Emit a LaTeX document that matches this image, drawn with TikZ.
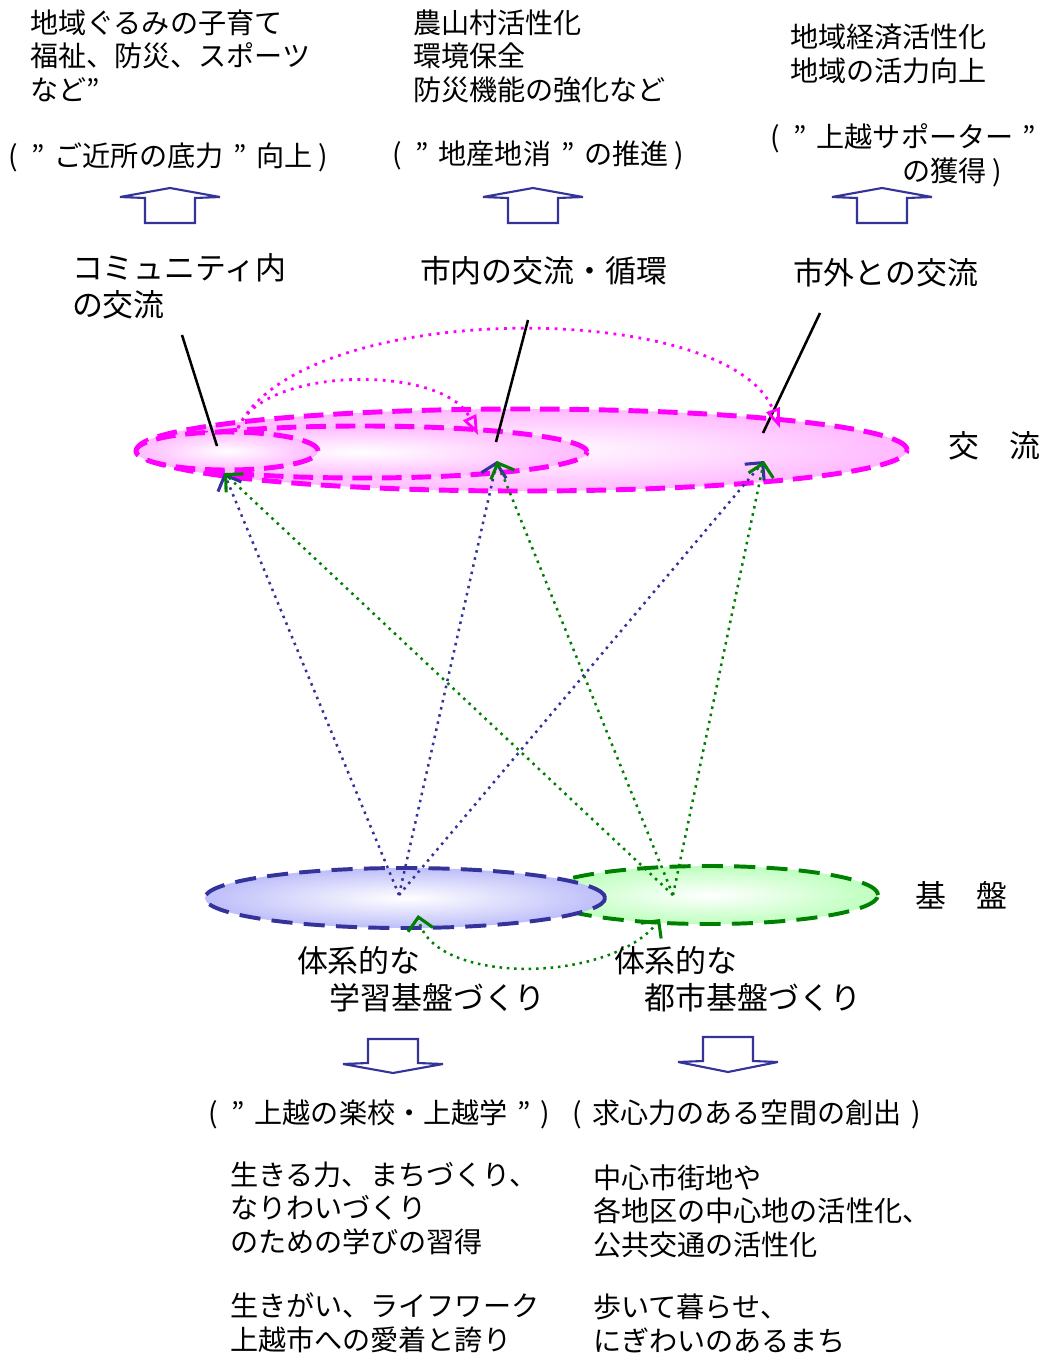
\documentclass[tikz,border=0pt]{standalone}
\usepackage{fontspec}
\setmainfont{Noto Sans CJK JP}
\usetikzlibrary{arrows.meta,shapes.geometric}
\definecolor{pinkline}{RGB}{255,0,255}
\definecolor{pinkfill}{RGB}{255,185,255}
\definecolor{blueline}{RGB}{51,51,153}
\definecolor{bluefill}{RGB}{190,190,250}
\definecolor{greenline}{RGB}{0,128,0}
\definecolor{greenfill}{RGB}{190,255,190}
\begin{document}
\begin{tikzpicture}[x=0.025cm, y=-0.025cm]
\tikzstyle{every node} = [inner sep=0pt, outer sep=0pt]
\tikzstyle{jptext} = [anchor=base west, align=left, font=\fontsize{20}{23.6}\selectfont]
\tikzstyle{jpbig} = [anchor=base west, align=left, font=\fontsize{22}{26.3}\selectfont]
\tikzstyle{blockarrow} = [draw=blueline, line width=1.5pt, fill=white, line join=miter, miter limit=2]
\tikzstyle{pinkring} = [ellipse, draw=pinkline, line width=3.5pt, dash pattern=on 14pt off 7pt, inner color=white, outer color=pinkfill]
\tikzstyle{bluering} = [ellipse, draw=blueline, line width=2.8pt, dash pattern=on 15pt off 8pt, inner color=white, outer color=bluefill]
\tikzstyle{greenring} = [ellipse, draw=greenline, line width=2.8pt, dash pattern=on 15pt off 8pt, inner color=white, outer color=greenfill]
\tikzstyle{bluedots} = [blueline, line width=1.8pt, dash pattern=on 1.8pt off 3.4pt, -{Straight Barb[length=9pt,width=18pt,line width=2.2pt]}]
\tikzstyle{greendots} = [greenline, line width=1.8pt, dash pattern=on 1.8pt off 3.4pt, -{Straight Barb[length=9pt,width=18pt,line width=2.2pt]}]
\tikzstyle{pinkdots} = [pinkline, line width=2pt, dash pattern=on 2pt off 4pt, -{Triangle[open,length=14pt,width=10pt,line width=2pt]}]
\useasboundingbox (0,0) rectangle (1040,1356);

% needs and aims
\node[jptext] (needsA) at (30,100) {地域ぐるみの子育て\\福祉、防災、スポーツ\\など”};
\node[jptext] (goalA) at (8,166) {(\hspace{0.5em}”\hspace{0.35em}ご近所の底力\hspace{0.35em}”\hspace{0.35em}向上\hspace{0.2em})};
\node[jptext] (needsB) at (413,100) {農山村活性化\\環境保全\\防災機能の強化など};
\node[jptext] (goalB) at (392,164) {(\hspace{0.5em}”\hspace{0.35em}地産地消\hspace{0.35em}”\hspace{0.35em}の推進\hspace{0.2em})};
\node[jptext] (needsC) at (790,81) {地域経済活性化\\地域の活力向上};
\node[jptext] (goalC) at (770,181) {(\hspace{0.5em}”\hspace{0.35em}上越サポーター\hspace{0.3em}”\\\hspace*{94pt}の獲得\hspace{0.2em})};

% block arrows
\draw[blockarrow] (120,197) -- (170,188) -- (220,197) -- (195,198) -- (195,223) -- (145,223) -- (145,198) -- cycle;
\draw[blockarrow] (483,197) -- (533,188) -- (583,197) -- (558,198) -- (558,223) -- (508,223) -- (508,198) -- cycle;
\draw[blockarrow] (832,197) -- (882,188) -- (932,197) -- (907,198) -- (907,223) -- (857,223) -- (857,198) -- cycle;
\draw[blockarrow] (368,1039) -- (418,1039) -- (418,1063) -- (443,1064) -- (393,1073) -- (343,1064) -- (368,1063) -- cycle;
\draw[blockarrow] (703,1037) -- (753,1037) -- (753,1061) -- (778,1062) -- (728,1072) -- (678,1062) -- (703,1061) -- cycle;

% kinds of exchange
\node[jpbig] (labA) at (72,316) {コミュニティ内\\の交流};
\node[jpbig] (labB) at (420,282) {市内の交流・循環};
\node[jpbig] (labC) at (793,284) {市外との交流};
\node[jpbig] (kouryu) at (948,457) {交　流};

% exchange rings
\node[pinkring, minimum width=19.25cm, minimum height=2.05cm] (ringL) at (522,450) {};
\node[pinkring, minimum width=11.25cm, minimum height=1.3cm] (ringM) at (362,452) {};
\node[pinkring, minimum width=4.55cm, minimum height=0.95cm] (ringS) at (227,451) {};

% base rings
\node[greenring, minimum width=8.45cm, minimum height=1.45cm] (ringG) at (709,895) {};
\node[bluering, minimum width=10cm, minimum height=1.5cm] (ringB) at (405,898) {};
\node[jpbig] (kiban) at (915,907) {基　盤};

\coordinate (tipS) at (224,473);
\coordinate (tipM) at (497,461);
\coordinate (tipL) at (764,461);
\coordinate (srcB) at (399,895);
\coordinate (srcG) at (673,895);
\coordinate (pinkS) at (238,428);
\coordinate (pinkM) at (478,435);
\coordinate (pinkL) at (780,428);
\coordinate (lineA) at (182,335);
\coordinate (lineB) at (528,320);
\coordinate (lineC) at (820,313);
\coordinate (endA) at (217,446);
\coordinate (endB) at (496,442);
\coordinate (endC) at (763,433);
\coordinate (loopB) at (418,915);
\coordinate (loopG) at (660,919);

% pointers
\draw[line width=1.8pt] (lineA) -- (endA);
\draw[line width=1.8pt] (lineB) -- (endB);
\draw[line width=1.8pt] (lineC) -- (endC);

% flows
\draw[pinkdots] (pinkS) .. controls (265,365) and (445,365) .. (pinkM);
\draw[pinkdots] (pinkS) .. controls (300,298) and (730,298) .. (pinkL);
\draw[bluedots] (srcB) -- (tipS);
\draw[bluedots] (srcB) -- (tipM);
\draw[bluedots] (srcB) -- (tipL);
\draw[greendots] (srcG) -- (tipS);
\draw[greendots] (srcG) -- (tipM);
\draw[greendots] (srcG) -- (tipL);
\draw[greendots, {Straight Barb[length=9pt,width=18pt,line width=2.2pt]}-{Straight Barb[length=9pt,width=18pt,line width=2.2pt]}] (loopG) .. controls (610,985) and (430,985) .. (loopB);

% base labels and results
\node[jpbig] (gakushu) at (297,1009) {体系的な\\\hspace*{23pt}学習基盤づくり};
\node[jpbig] (toshi) at (614,1009) {体系的な\\\hspace*{22pt}都市基盤づくり};
\node[jptext] (goalD) at (208,1123) {(\hspace{0.5em}”\hspace{0.35em}上越の楽校・上越学\hspace{0.35em}”\hspace{0.35em})\hspace{0.8em}(\hspace{0.35em}求心力のある空間の創出\hspace{0.35em})};
\node[jptext] (resA1) at (230,1252) {生きる力、まちづくり、\\なりわいづくり\\のための学びの習得};
\node[jptext] (resA2) at (230,1350) {生きがい、ライフワーク\\上越市への愛着と誇り};
\node[jptext] (resB1) at (593,1255) {中心市街地や\\各地区の中心地の活性化、\\公共交通の活性化};
\node[jptext] (resB2) at (593,1351) {歩いて暮らせ、\\にぎわいのあるまち};
\end{tikzpicture}
\end{document}
